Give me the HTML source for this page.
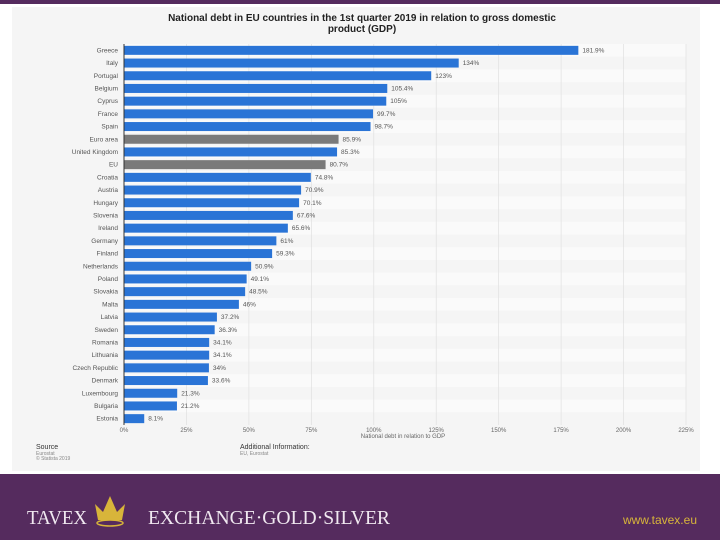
<!DOCTYPE html>
<html><head><meta charset="utf-8"><style>
body{margin:0;width:720px;height:540px;overflow:hidden;background:#fff;font-family:"Liberation Sans",sans-serif}
#topbar{position:absolute;left:0;top:0;width:720px;height:4px;background:#552b5e}
#panel{position:absolute;left:12px;top:7px;width:688px;height:464px;background:#f5f5f5}
#footer{position:absolute;left:0;top:474px;width:720px;height:66px;background:#552b5e}
</style></head><body>
<div id="topbar"></div>
<div id="panel"></div>
<svg width="720" height="540" style="position:absolute;left:0;top:0">
<text x="362" y="21" text-anchor="middle" font-size="10" font-weight="bold" fill="#222">National debt in EU countries in the 1st quarter 2019 in relation to gross domestic</text>
<text x="362" y="32" text-anchor="middle" font-size="10" font-weight="bold" fill="#222">product (GDP)</text>
<g id="plot"></g>
<text x="403" y="438" text-anchor="middle" font-size="6" fill="#666">National debt in relation to GDP</text>
<text x="36" y="449" font-size="7" fill="#333">Source</text>
<text x="36" y="455" font-size="5" fill="#888">Eurostat</text>
<text x="36" y="460" font-size="5" fill="#888">© Statista 2019</text>
<text x="240" y="449" font-size="7" fill="#333">Additional Information:</text>
<text x="240" y="455" font-size="5" fill="#888">EU, Eurostat</text>
</svg>
<div id="footer">
<svg width="720" height="66">
<text x="27" y="50" font-family="Liberation Serif" font-size="20" fill="#f0e8f0" textLength="60" lengthAdjust="spacingAndGlyphs">TAVEX</text>
<g fill="#d8b53a">
<path d="M95 30 L103 38 L110 22 L117 38 L125 30 L122 46 L98 46 Z"/>
<ellipse cx="110" cy="49" rx="13" ry="3" fill="none" stroke="#d8b53a" stroke-width="1.5"/>
</g>
<text x="148" y="50" font-family="Liberation Serif" font-size="20" fill="#f0e8f0" textLength="242" lengthAdjust="spacingAndGlyphs">EXCHANGE·GOLD·SILVER</text>
<text x="697" y="50" text-anchor="end" font-size="12" fill="#d8b53a">www.tavex.eu</text>
</svg></div>
<script>
const countries=["Greece","Italy","Portugal","Belgium","Cyprus","France","Spain","Euro area","United Kingdom","EU","Croatia","Austria","Hungary","Slovenia","Ireland","Germany","Finland","Netherlands","Poland","Slovakia","Malta","Latvia","Sweden","Romania","Lithuania","Czech Republic","Denmark","Luxembourg","Bulgaria","Estonia"];
const values=[181.9,134,123,105.4,105,99.7,98.7,85.9,85.3,80.7,74.8,70.9,70.1,67.6,65.6,61,59.3,50.9,49.1,48.5,46,37.2,36.3,34.1,34.1,34,33.6,21.3,21.2,8.1];
const labels=["181.9%","134%","123%","105.4%","105%","99.7%","98.7%","85.9%","85.3%","80.7%","74.8%","70.9%","70.1%","67.6%","65.6%","61%","59.3%","50.9%","49.1%","48.5%","46%","37.2%","36.3%","34.1%","34.1%","34%","33.6%","21.3%","21.2%","8.1%"];
const ticks=[0,25,50,75,100,125,150,175,200,225];
const ns="http://www.w3.org/2000/svg",g=document.getElementById('plot');
const x0=124,x1=686,plotTop=44,plotBottom=425;
const xs=v=>x0+(x1-x0)*v/225;
const step=(plotBottom-plotTop)/countries.length;
const yc=i=>plotTop+step*(i+0.5);
function mk(t,a){const e=document.createElementNS(ns,t);for(const k in a)e.setAttribute(k,a[k]);g.appendChild(e);return e;}
countries.forEach((c,i)=>{if(i%2==0){const r=mk('rect',{x:x0,y:plotTop+step*i,width:x1-x0,height:step,fill:'#fafafa'});

}});
ticks.forEach(t=>{const l=mk('line',{x1:xs(t),x2:xs(t),y1:plotTop,y2:plotBottom,stroke:'#e0e0e0','stroke-width':0.7});


const tx=mk('text',{x:xs(t),y:plotBottom+7,'text-anchor':'middle','font-size':6,fill:'#666'});tx.textContent=t+'%';

});
countries.forEach((c,i)=>{const y=yc(i);
const b=mk('rect',{x:x0,y:y-4.5,width:xs(values[i])-x0,height:9,fill:(c=="Euro area"||c=="EU")?'#7a7a7a':'#2a74d6'});


const lt=mk('text',{x:x0-6,y:y+2,'text-anchor':'end','font-size':6.5,fill:'#555'});lt.textContent=c;


const vt=mk('text',{x:xs(values[i])+4,y:y+2,'font-size':6.5,fill:'#555'});vt.textContent=labels[i];

});
const ax=mk('line',{x1:x0,x2:x0,y1:plotTop,y2:plotBottom,stroke:'#333','stroke-width':1});


</script>
</body></html>
